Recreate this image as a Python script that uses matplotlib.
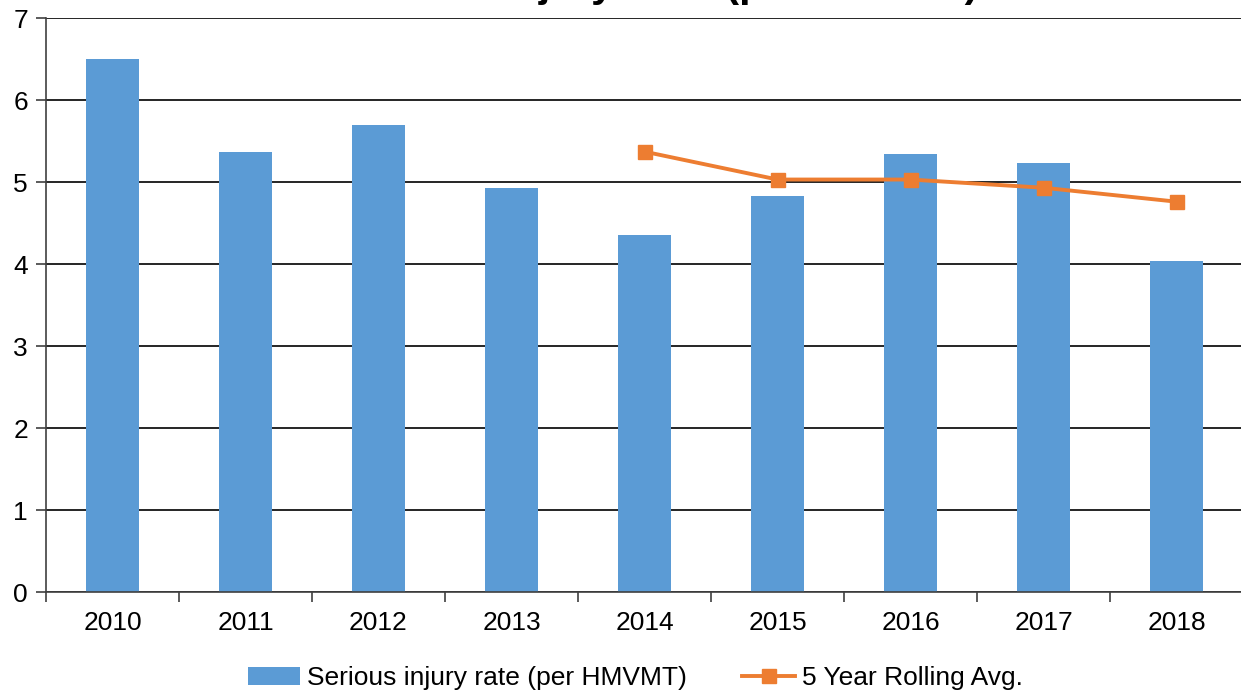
import matplotlib
matplotlib.use('Agg')
import matplotlib.pyplot as plt
import numpy as np

plt.rcParams['font.family'] = ['Liberation Sans', 'DejaVu Sans']

# data
years = ['2010', '2011', '2012', '2013', '2014', '2015', '2016', '2017', '2018']
injury_rate = [6.50, 5.37, 5.70, 4.93, 4.35, 4.83, 5.34, 5.23, 4.04]
rolling_years = ['2014', '2015', '2016', '2017', '2018']
rolling_avg = [5.37, 5.03, 5.03, 4.93, 4.76]

BAR_COLOR = '#5B9BD5'
LINE_COLOR = '#ED7D31'

fig = plt.figure(figsize=(12.41, 6.96), dpi=100)
ax = fig.add_axes([46 / 1241, 1 - 592 / 696, 1197 / 1241, 574 / 696])

x = np.arange(len(years))
bars = ax.bar(x, injury_rate, width=0.40, color=BAR_COLOR, zorder=2,
              label='Serious injury rate (per HMVMT)')

x_roll = [years.index(y) for y in rolling_years]
line, = ax.plot(x_roll, rolling_avg, color=LINE_COLOR, linewidth=2.8, marker='s',
                markersize=10, zorder=3, label='5 Year Rolling Avg.')

# axes styling
ax.set_xlim(-0.5, len(years) - 0.5)
ax.set_ylim(0, 7)
ax.set_yticks(range(0, 8))
ax.yaxis.grid(True, color='black', linewidth=1.2, zorder=0)
ax.set_axisbelow(True)
for side in ['top', 'right']:
    ax.spines[side].set_visible(False)
ax.spines['left'].set_color('#404040')
ax.spines['bottom'].set_color('#404040')
ax.spines['left'].set_linewidth(1.2)
ax.spines['bottom'].set_linewidth(1.2)

ax.set_xticks(x)
ax.set_xticklabels(years)
ax.set_xticks(np.arange(-0.5, len(years), 1.0), minor=True)
ax.tick_params(axis='x', which='major', length=0, pad=14, labelsize=19)
ax.tick_params(axis='x', which='minor', length=7, width=1.2, color='#404040')
ax.tick_params(axis='y', length=7, width=1.2, color='#404040', pad=6, labelsize=19)

# title mostly cut off above the image, only descenders show
fig.text(341 / 1241, 1 + 3 / 696, 'Serious Injury Rate (per HMVMT)',
         fontsize=29.5, fontweight='bold', ha='left', va='baseline')

fig.legend(handles=[bars, line], loc='center',
           bbox_to_anchor=(635 / 1241, 1 - 678 / 696), ncol=2,
           frameon=False, fontsize=19, handlelength=2.0, handletextpad=0.25,
           columnspacing=2.1)

plt.savefig('out.png', dpi=100)
